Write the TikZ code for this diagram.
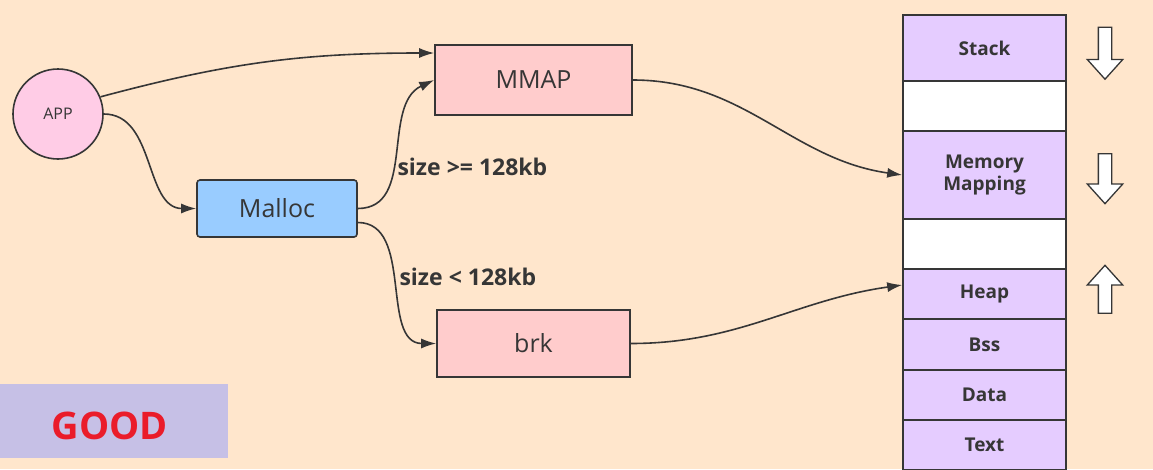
\documentclass[tikz,border=0pt]{standalone}
\usepackage{fontspec}
\setmainfont{Open Sans}
\usepackage{tikz}
\usetikzlibrary{arrows.meta, shapes.arrows, positioning}

\definecolor{bgpeach}{HTML}{FFE6CC}
\definecolor{boxpink}{HTML}{FFCCCC}
\definecolor{apppink}{HTML}{FFCCE6}
\definecolor{mallocblue}{HTML}{99CCFF}
\definecolor{segpurple}{HTML}{E5CCFF}
\definecolor{goodlav}{HTML}{C6C0E6}
\definecolor{goodred}{HTML}{EA1C2A}
\definecolor{linegray}{HTML}{363636}

\begin{document}
\begin{tikzpicture}[x=1pt, y=-1pt, >={Latex[length=15pt,width=10pt]},
    box/.style={draw=linegray, line width=1.6pt, text=linegray, minimum width=197pt, minimum height=70pt, font=\fontsize{25}{29}\selectfont},
    seg/.style={draw=linegray, line width=1.6pt, text=linegray, minimum width=163pt, inner sep=0pt, align=center, font=\bfseries\fontsize{19}{22}\selectfont},
    growarrow/.style={single arrow, draw=linegray, line width=1.3pt, fill=white, inner sep=6pt, minimum height=52pt, single arrow head extend=11pt, single arrow tip angle=84},
    conn/.style={->, line width=1.6pt, draw=linegray},
    cond/.style={anchor=west, text=linegray, font=\bfseries\fontsize{23}{26}\selectfont}]
    % Hintergrund
    \useasboundingbox (0,0) rectangle (1153,469);
    \clip (0,0) rectangle (1153,469);
    \fill[bgpeach] (0,0) rectangle (1153,469);

    % Knoten links
    \node[circle, draw=linegray, line width=1.6pt, fill=apppink, text=linegray, minimum size=90pt, font=\fontsize{16}{18}\selectfont] (app) at (58,114) {APP};
    \node[box, fill=mallocblue, rounded corners=3pt, minimum width=160pt, minimum height=57pt] (malloc) at (277,208.5) {Malloc};
    \node[box, fill=boxpink] (mmap) at (533.5,80) {MMAP};
    \node[box, fill=boxpink, minimum width=193pt, minimum height=67pt] (brk) at (533.5,343.5) {brk};

    % Speichersegmente
    \foreach \name/\lbl/\ytop/\ybot/\col in {stackseg/Stack/15/81/segpurple, gapa//81/131/white,
        mapseg/{Memory\\Mapping}/131/219/segpurple, gapb//219/269/white, heapseg/Heap/269/319/segpurple,
        bssseg/Bss/319/370/segpurple, dataseg/Data/370/420/segpurple, textseg/Text/420/470/segpurple} {
        \node[seg, fill=\col, minimum height={\ybot-\ytop}] (\name) at (984.5,{(\ytop+\ybot)/2}) {\lbl};
    }

    % Wachstumsrichtung
    \node[growarrow, shape border rotate=270] (stackdir) at (1105,49.5) {};
    \node[growarrow, shape border rotate=270, minimum height=50pt] (mapdir) at (1105,175) {};
    \node[growarrow, shape border rotate=90, minimum height=48pt] (heapdir) at (1105,293) {};

    % Verbindungen
    \draw[conn] (app.22) to[out=15, in=180] ([yshift=27pt]mmap.west);
    \draw[conn] (app.east) to[out=0, in=180] (malloc.west);
    \draw[conn] (malloc.east) to[out=0, in=205] (mmap.west);
    \draw[conn] ([yshift=-14pt]malloc.east) to[out=0, in=180] (brk.west);
    \draw[conn] (mmap.east) to[out=0, in=172] (mapseg.west);
    \draw[conn] (brk.east) to[out=0, in=188] ([yshift=9pt]heapseg.west);

    % Bedingungen
    \node[cond] (bigcond) at (394,167) {size >= 128kb};
    \node[cond] (smallcond) at (396,277) {size < 128kb};

    % Stempel
    \node[fill=goodlav, minimum width=232pt, minimum height=74pt] (goodbox) at (112,421) {};
    \node[text=goodred, font=\bfseries\fontsize{38}{40}\selectfont] (goodlbl) at (110,426) {GOOD};
\end{tikzpicture}
\end{document}
